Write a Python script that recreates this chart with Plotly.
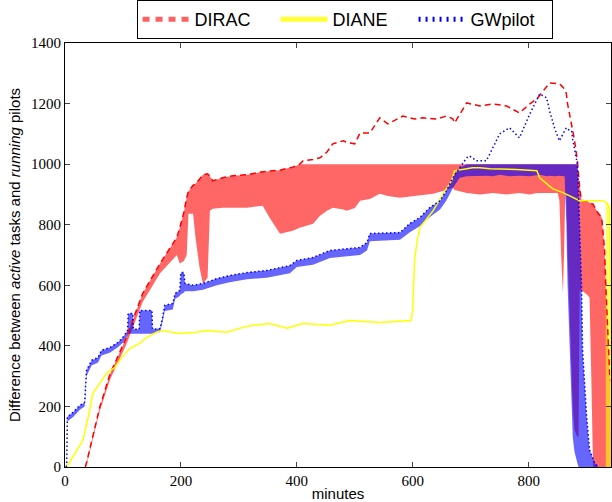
import numpy as np
import plotly.graph_objects as go

# ---------------- data ----------------
# DIRAC: time (min), dashed-line value, lower edge of shaded band
dirac_t = [35, 37, 60, 78, 106, 134, 164, 193, 198, 205, 210, 213, 221, 225, 232, 238, 246, 250, 255,
           272, 290, 314, 341, 353, 371, 380, 393, 405, 411, 428, 440, 452, 462, 480, 486, 500, 509,
           526, 543, 557, 578, 583, 603, 617, 635, 641, 658, 669, 672, 693, 716, 738, 762, 784, 802,
           814, 836, 850, 853, 856, 859, 861, 863, 865, 867, 872, 876, 879, 884, 886, 888, 891, 900,
           905, 908, 911, 919, 926, 928, 931, 933, 936, 940, 942]
dirac_line = [0, 13, 198, 309, 428, 573, 672, 758, 790, 840, 890, 910, 930, 935, 950, 965, 968, 960, 945,
              955, 962, 965, 975, 978, 980, 985, 990, 1000, 1011, 1015, 1021, 1040, 1067, 1077, 1072, 1067, 1103,
              1103, 1153, 1133, 1155, 1159, 1149, 1153, 1150, 1149, 1159, 1150, 1136, 1202, 1192, 1199, 1192, 1169, 1199,
              1215, 1268, 1265, 1265, 1260, 1255, 1250, 1245, 1232, 1200, 1150, 1120, 1080, 1011, 960, 920, 880, 878,
              872, 870, 868, 840, 824, 780, 715, 600, 450, 296, 280]
dirac_low = [0, 5, 185, 290, 405, 545, 640, 700, 672, 680, 700, 836, 836, 760, 660, 605, 625, 846, 853,
             856, 856, 856, 863, 823, 770, 775, 780, 790, 795, 803, 830, 846, 856, 850, 846, 855, 879,
             885, 902, 895, 889, 890, 895, 898, 902, 905, 915, 922, 915, 905, 900, 905, 900, 905, 900,
             905, 905, 905, 880, 700, 573, 700, 900, 900, 715, 420, 200, 122, 100, 100, 583, 583, 570,
             560, 300, 0, 0, 0, 0, 0, 0, 0, 0, 0]

# DIANE: time (min), solid-line value; shaded band only at the very end
diane_t = [3, 31, 40, 48, 60, 72, 86, 98, 112, 129, 141, 158, 167, 198, 227, 245, 279, 307, 324, 353,
           383, 410, 457, 491, 543, 597, 600, 603, 607, 612, 635, 652, 667, 672, 693, 703, 716, 733,
           779, 814, 819, 831, 841, 859, 876, 888, 928, 933, 935, 940, 943]
diane_line = [0, 89, 165, 243, 277, 310, 329, 362, 392, 408, 428, 445, 451, 441, 445, 451, 445, 461, 468, 474,
              458, 474, 468, 484, 477, 484, 520, 682, 740, 790, 846, 902, 945, 978, 985, 988, 988, 985,
              982, 978, 955, 935, 919, 906, 889, 879, 879, 875, 870, 856, 0]
diane_band_start = 933

# GWpilot: time (min), dotted-line value, lower edge of shaded band
gw_t = [2, 3, 4, 14, 26, 34, 37, 46, 57, 63, 78, 91, 100, 108, 109, 117, 118, 128, 129, 150, 151,
        158, 164, 169, 172, 186, 190, 198, 200, 205, 207, 221, 238, 262, 284, 314, 348, 388, 400,
        428, 457, 509, 521, 526, 578, 595, 612, 629, 647, 658, 669, 681, 693, 698, 710, 727, 738,
        750, 767, 784, 802, 819, 831, 836, 845, 853, 862, 865, 867, 872, 874, 876, 879, 884, 886,
        888, 891, 893, 900, 905, 914, 920]
gw_line = [0, 13, 165, 181, 204, 214, 319, 352, 362, 385, 395, 411, 428, 451, 507, 507, 455, 455, 517, 517, 455,
           457, 457, 500, 534, 540, 573, 583, 642, 642, 606, 600, 606, 622, 632, 642, 649, 665, 682,
           692, 715, 725, 741, 771, 774, 804, 823, 856, 879, 912, 955, 988, 1021, 1027, 1011, 1011, 1054,
           1100, 1120, 1087, 1166, 1232, 1219, 1176, 1117, 1077, 1110, 1120, 1115, 1112, 1110, 1080, 1054, 1001, 900,
           780, 606, 385, 165, 56, 13, 0]
gw_low = [0, 0, 150, 165, 190, 200, 300, 335, 345, 368, 378, 395, 410, 435, 440, 440, 440, 440, 440, 440, 440,
          445, 445, 485, 515, 520, 555, 565, 570, 575, 580, 580, 585, 600, 610, 620, 625, 640, 660,
          668, 690, 700, 715, 745, 750, 775, 795, 825, 850, 880, 920, 955, 960, 960, 960, 962, 960,
          965, 960, 962, 960, 965, 960, 962, 960, 962, 960, 800, 606, 300, 200, 99, 50, 13, 0,
          0, 0, 0, 0, 0, 0, 0]

CAP = 1000  # shaded bands are clipped at this level

x_ticks = [0, 200, 400, 600, 800]
y_ticks = [0, 200, 400, 600, 800, 1000, 1200, 1400]

# ---------------- figure ----------------
fig = go.Figure()


def band(t, hi, lo, color):
    t = list(t)
    return go.Scatter(x=t + t[::-1], y=list(hi) + list(lo)[::-1], fill="toself",
                      fillcolor=color, line=dict(width=0), mode="lines",
                      hoverinfo="skip", showlegend=False)


dirac_hi = np.minimum(np.array(dirac_line, float), CAP)
gw_hi = np.minimum(np.array(gw_line, float), CAP)
dt = np.array(diane_t)
mask = dt >= diane_band_start
d_t = dt[mask]
d_hi = np.array(diane_line, float)[mask]

fig.add_trace(band(dirac_t, dirac_hi, dirac_low, "rgba(255,0,0,0.6)"))
fig.add_trace(band(d_t, d_hi, np.zeros_like(d_hi), "rgba(255,255,0,0.6)"))
fig.add_trace(band(gw_t, gw_hi, gw_low, "rgba(0,0,255,0.6)"))

fig.add_trace(go.Scatter(x=dirac_t, y=dirac_line, mode="lines", showlegend=False,
                         line=dict(color="#ff0000", width=1.5, dash="6px,4px")))
fig.add_trace(go.Scatter(x=diane_t, y=diane_line, mode="lines", showlegend=False,
                         line=dict(color="#ffff00", width=1.5)))
fig.add_trace(go.Scatter(x=gw_t, y=gw_line, mode="lines", showlegend=False,
                         line=dict(color="#0000ff", width=1.5, dash="1.5px,2.5px")))

# legend entries
fig.add_trace(go.Scatter(x=[None], y=[None], mode="lines", name="DIRAC",
                         line=dict(color="rgba(255,80,80,0.9)", width=5, dash="7px,6px")))
fig.add_trace(go.Scatter(x=[None], y=[None], mode="lines", name="DIANE",
                         line=dict(color="#ffff33", width=5)))
fig.add_trace(go.Scatter(x=[None], y=[None], mode="lines", name="GWpilot",
                         line=dict(color="#0000ee", width=5, dash="2px,5px")))

serif = "Liberation Serif"
sans = "Liberation Sans"

fig.update_layout(
    width=612, height=502,
    margin=dict(l=65, r=1, t=42, b=35),
    paper_bgcolor="white", plot_bgcolor="white",
    showlegend=True,
    legend=dict(orientation="h", x=0.512, xanchor="center", y=1.008, yanchor="bottom",
                bordercolor="black", borderwidth=1, bgcolor="white",
                font=dict(family=sans, size=18, color="black"),
                itemwidth=47, entrywidth=76, traceorder="normal"),
    xaxis=dict(range=[0, 942], tickvals=x_ticks, ticks="inside", ticklen=5,
               showline=True, linecolor="black", linewidth=1, mirror="allticks",
               showgrid=False, zeroline=False,
               tickfont=dict(family=serif, size=15, color="black"),
               title=dict(text="minutes", font=dict(family=sans, size=15, color="black"), standoff=2)),
    yaxis=dict(range=[0, 1400], tickvals=y_ticks, ticks="inside", ticklen=5,
               showline=True, linecolor="black", linewidth=1, mirror="allticks",
               showgrid=False, zeroline=False,
               tickfont=dict(family=serif, size=15, color="black"),
               title=dict(text="Difference between <i>active</i> tasks and <i>running</i> pilots",
                          font=dict(family=sans, size=15, color="black"), standoff=6)),
)

fig.write_html("out.html")
